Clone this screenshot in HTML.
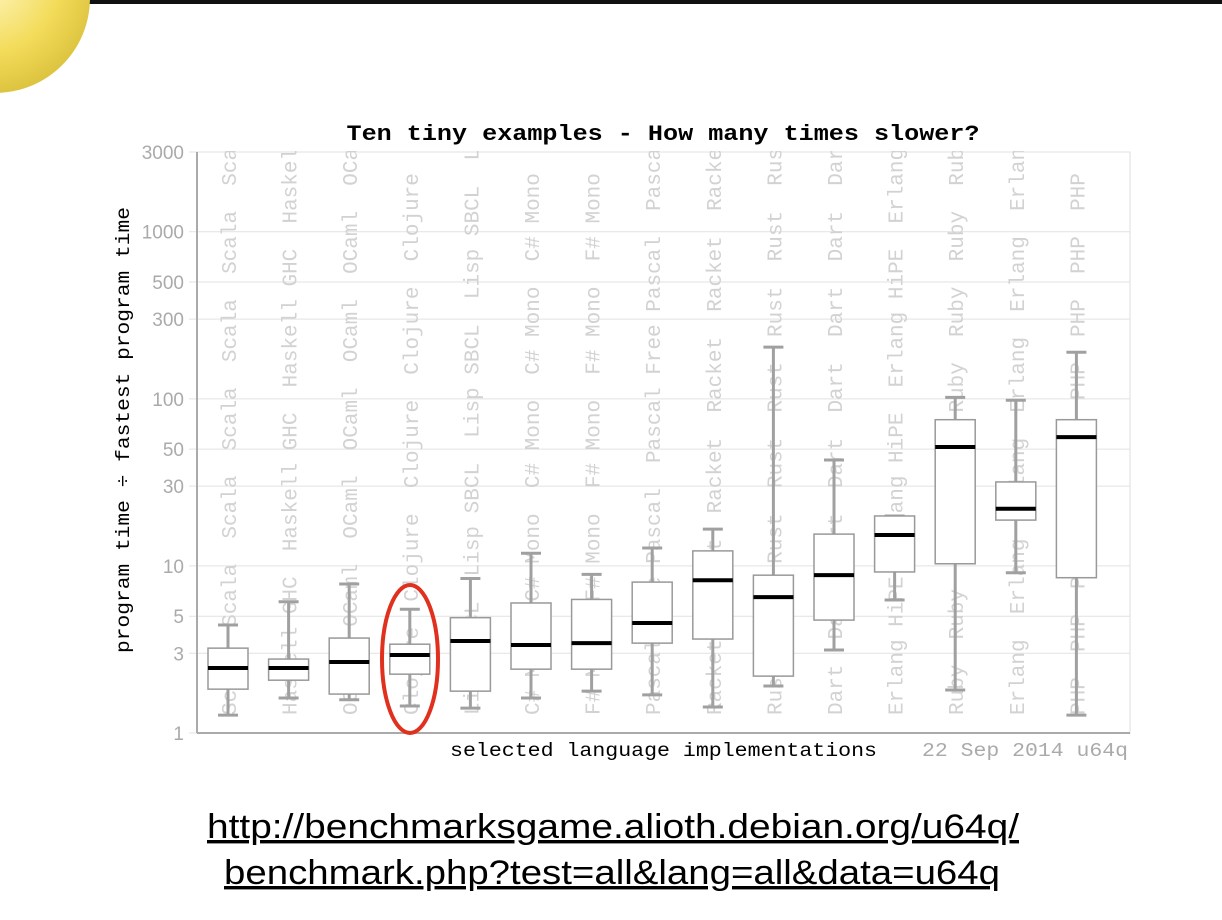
<!DOCTYPE html>
<html><head><meta charset="utf-8"><style>
html,body{margin:0;padding:0;background:#fff;width:1222px;height:920px;overflow:hidden;}
svg{display:block;}
.bgl{white-space:pre;}
</style></head><body>
<svg width="1222" height="920">
<rect x="0" y="0" width="1222" height="920" fill="#fff"/>
<rect x="0" y="0" width="1222" height="4" fill="#111"/>
<defs><radialGradient id="sun" cx="0.45" cy="0.4" r="0.65"><stop offset="0" stop-color="#fff8c8"/><stop offset="0.6" stop-color="#f3dc5a"/><stop offset="1" stop-color="#d9bf3a"/></radialGradient>
<clipPath id="plotclip"><rect x="197" y="151" width="933" height="583"/></clipPath></defs>
<circle cx="-5" cy="-2" r="95" fill="url(#sun)"/>
<text x="663" y="140" text-anchor="middle" font-family="Liberation Mono, monospace" font-weight="bold" font-size="22" textLength="633" lengthAdjust="spacingAndGlyphs">Ten tiny examples - How many times slower?</text>
<g id="chart"></g>
<text transform="translate(129,430) rotate(-90)" text-anchor="middle" font-family="Liberation Mono, monospace" font-size="19" textLength="446" lengthAdjust="spacingAndGlyphs">program time ÷ fastest program time</text>
<text x="450" y="756" font-family="Liberation Mono, monospace" font-size="19" textLength="427" lengthAdjust="spacingAndGlyphs">selected language implementations</text>
<text x="922" y="756" font-family="Liberation Mono, monospace" font-size="19" fill="#aaa" textLength="206" lengthAdjust="spacingAndGlyphs">22 Sep 2014 u64q</text>
<ellipse cx="410" cy="659" rx="28" ry="74" fill="none" stroke="#e0301e" stroke-width="4"/>
<text x="613" y="838" text-anchor="middle" font-family="Liberation Sans, sans-serif" font-size="34" text-decoration="underline" textLength="812" lengthAdjust="spacingAndGlyphs">http://benchmarksgame.alioth.debian.org/u64q/</text>
<text x="612" y="884" text-anchor="middle" font-family="Liberation Sans, sans-serif" font-size="34" text-decoration="underline" textLength="776" lengthAdjust="spacingAndGlyphs">benchmark.php?test=all&amp;lang=all&amp;data=u64q</text>
</svg>
<script>
const languages=["Scala","Haskell GHC","OCaml","Clojure","Lisp SBCL","C# Mono","F# Mono","Pascal Free Pascal","Racket","Rust","Dart","Erlang HiPE","Ruby","Erlang","PHP"];
const whiskerLow=[1.28,1.62,1.58,1.45,1.41,1.62,1.78,1.69,1.43,1.91,3.14,6.25,1.81,9.1,1.28];
const q1=[1.83,2.07,1.71,2.25,1.78,2.41,2.41,3.45,3.65,2.19,4.74,9.2,10.3,18.8,8.5];
const medians=[2.45,2.45,2.66,2.93,3.55,3.36,3.45,4.55,8.2,6.5,8.8,15.3,51.5,22,59];
const q3=[3.22,2.77,3.7,3.4,4.9,6.0,6.3,8.0,12.3,8.8,15.5,19.9,75,31.8,75];
const whiskerHigh=[4.43,6.1,7.8,5.5,8.4,11.9,8.9,12.8,16.6,204,43,19.9,102,98,190];
const yTicks=[1,3,5,10,30,50,100,300,500,1000,3000];
const NS="http://www.w3.org/2000/svg";
const X0=197,X1=1130,Y1=733,Y0=152;
function y(v){return Y1-(Math.log10(v))/Math.log10(3000)*(Y1-Y0);}
function x(i){return X0+31+i*60.6;}
const g=document.getElementById('chart');
function mk(t,a,p){const e=document.createElementNS(NS,t);for(const k in a)e.setAttribute(k,a[k]);(p||g).appendChild(e);return e;}
const frame=mk('rect',{x:X0,y:Y0,width:X1-X0,height:Y1-Y0,fill:'none',stroke:'#ddd'});


yTicks.forEach(t=>{
 const ln=mk('line',{x1:X0-8,x2:X1,y1:y(t),y2:y(t),stroke:'#e2e2e2'});
 
 
 const tx=mk('text',{x:X0-13,y:y(t)+7,'text-anchor':'end','font-family':'Liberation Sans, sans-serif','font-size':'19',fill:'#aaa'});
 tx.textContent=t;
 
 
});
const ax=mk('line',{x1:X0,x2:X0,y1:Y0,y2:Y1,stroke:'#aaa','stroke-width':2});


const ax2=mk('line',{x1:X0,x2:X1,y1:Y1,y2:Y1,stroke:'#aaa','stroke-width':2});


const bg=mk('g',{'clip-path':'url(#plotclip)'});
languages.forEach((l,i)=>{
 const s=(l+'  ').repeat(12);
 const t=mk('text',{class:'bgl',transform:'translate('+(x(i)+8)+',715) rotate(-90)','font-family':'Liberation Mono, monospace','font-size':'21',fill:'#d2d2d2'},bg);
 t.textContent=s;
 
 
});
languages.forEach((l,i)=>{
 const cx=x(i),w=40;
 const wk=mk('line',{x1:cx,x2:cx,y1:y(whiskerLow[i]),y2:y(whiskerHigh[i]),stroke:'#a0a0a0','stroke-width':3});
 
 
 [whiskerLow[i],whiskerHigh[i]].forEach(v=>{
  const c=mk('line',{x1:cx-10,x2:cx+10,y1:y(v),y2:y(v),stroke:'#a0a0a0','stroke-width':3});
  
  
 });
 const b=mk('rect',{x:cx-w/2,y:y(q3[i]),width:w,height:y(q1[i])-y(q3[i]),fill:'#fff',stroke:'#999','stroke-width':1.5});
 
 
 const m=mk('line',{x1:cx-w/2,x2:cx+w/2,y1:y(medians[i]),y2:y(medians[i]),stroke:'#000','stroke-width':4});
 
 
});
</script>
</body></html>
